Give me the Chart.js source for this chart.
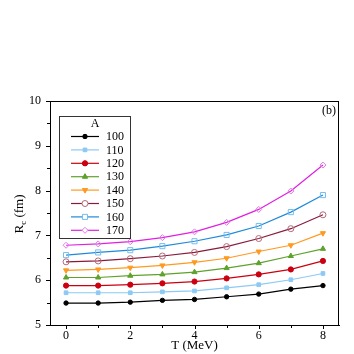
<!DOCTYPE html>
<html>
<head>
<meta charset="utf-8">
<script src="https://cdn.jsdelivr.net/npm/chart.js@4"></script>
<style>
  body { margin: 0; background: #fff; }
  #wrap { width: 354px; height: 354px; }
</style>
</head>
<body>
<div id="wrap"><canvas id="rcChart" width="354" height="354"></canvas></div>
<script>
const temps = [0, 1, 2, 3, 4, 5, 6, 7, 8];
const massLabels = ['100', '110', '120', '130', '140', '150', '160', '170'];

const rc100 = [5.49, 5.49, 5.51, 5.55, 5.57, 5.63, 5.69, 5.80, 5.88];
const rc110 = [5.72, 5.72, 5.72, 5.74, 5.76, 5.83, 5.90, 6.01, 6.15];
const rc120 = [5.88, 5.88, 5.90, 5.93, 5.97, 6.04, 6.13, 6.24, 6.43];
const rc130 = [6.06, 6.06, 6.10, 6.13, 6.18, 6.27, 6.38, 6.54, 6.70];
const rc140 = [6.22, 6.24, 6.28, 6.33, 6.40, 6.49, 6.64, 6.78, 7.05];
const rc150 = [6.41, 6.43, 6.48, 6.54, 6.62, 6.75, 6.93, 7.15, 7.46];
const rc160 = [6.56, 6.62, 6.67, 6.76, 6.87, 7.01, 7.21, 7.52, 7.90];
const rc170 = [6.78, 6.81, 6.86, 6.95, 7.08, 7.29, 7.58, 7.99, 8.57];

const xTicks = [0, 2, 4, 6, 8];
const yTicks = [5, 6, 7, 8, 9, 10];

const serif = '"Liberation Serif", "DejaVu Serif", serif';

// line colour, marker colour, marker style, filled?, rotation
const styles = [
  { line: '#000000', mark: '#000000', shape: 'circle', fill: true, rot: 0, r: 2.2 },
  { line: '#8ccaf4', mark: '#8ccaf4', shape: 'rect', fill: true, rot: 0, r: 2.6 },
  { line: '#cc0010', mark: '#cc0010', shape: 'circle', fill: true, rot: 0, r: 2.6 },
  { line: '#5ea22c', mark: '#5ea22c', shape: 'triangle', fill: true, rot: 0, r: 3 },
  { line: '#ff9a20', mark: '#ff9a20', shape: 'triangle', fill: true, rot: 180, r: 3 },
  { line: '#8a1a3c', mark: '#b46a78', shape: 'circle', fill: false, rot: 0, r: 3 },
  { line: '#1f8ad8', mark: '#74bdf0', shape: 'rect', fill: false, rot: 0, r: 3.6 },
  { line: '#e020e0', mark: '#e27ae8', shape: 'rectRot', fill: false, rot: 0, r: 3 }
];

const seriesValues = [rc100, rc110, rc120, rc130, rc140, rc150, rc160, rc170];

const datasets = seriesValues.map((vals, i) => {
  const s = styles[i];
  return {
    label: massLabels[i],
    data: temps.map((t, j) => ({ x: t, y: vals[j] })),
    borderColor: s.line,
    borderWidth: 1.2,
    pointStyle: s.shape,
    pointRotation: s.rot,
    pointRadius: s.r,
    pointBorderColor: s.mark,
    pointBackgroundColor: s.fill ? s.mark : 'rgba(0,0,0,0)',
    pointBorderWidth: 1,
    tension: 0
  };
});

// frame, ticks, titles, legend and panel label
const decorPlugin = {
  id: 'decor',
  afterDraw(chart) {
    const ctx = chart.ctx;
    const area = chart.chartArea;
    const xs = chart.scales.x;
    const ys = chart.scales.y;
    ctx.save();
    ctx.strokeStyle = '#000';
    ctx.lineWidth = 1;
    ctx.strokeRect(area.left + 0.5, area.top + 0.5, area.right - area.left - 1, area.bottom - area.top);

    // x ticks (outward)
    for (let v = 0; v <= 8; v++) {
      const px = Math.round(xs.getPixelForValue(v)) + 0.5;
      const len = v % 2 === 0 ? 4 : 3;
      ctx.beginPath();
      ctx.moveTo(px, area.bottom);
      ctx.lineTo(px, area.bottom + len);
      ctx.stroke();
    }
    // y ticks (outward)
    for (let v = 5; v <= 10; v += 0.5) {
      const py = Math.round(ys.getPixelForValue(v)) + 0.5;
      const len = Number.isInteger(v) ? 4 : 3;
      ctx.beginPath();
      ctx.moveTo(area.left, py);
      ctx.lineTo(area.left - len, py);
      ctx.stroke();
    }

    ctx.fillStyle = '#000';
    // x title
    ctx.font = '13px ' + serif;
    ctx.textAlign = 'center';
    ctx.textBaseline = 'middle';
    ctx.fillText('T (MeV)', (area.left + area.right) / 2, 346);

    // y title with subscript
    ctx.save();
    ctx.translate(20, 214);
    ctx.rotate(-Math.PI / 2);
    ctx.textAlign = 'left';
    ctx.font = '13px ' + serif;
    const wR = ctx.measureText('R').width;
    ctx.font = '9px ' + serif;
    const wc = ctx.measureText('c').width;
    ctx.font = '13px ' + serif;
    const wRest = ctx.measureText(' (fm)').width;
    let start = -(wR + wc + wRest) / 2;
    ctx.fillText('R', start, 0);
    ctx.font = '9px ' + serif;
    ctx.fillText('c', start + wR, 4);
    ctx.font = '13px ' + serif;
    ctx.fillText(' (fm)', start + wR + wc, 0);
    ctx.restore();

    // panel label
    ctx.font = '12px ' + serif;
    ctx.textAlign = 'right';
    ctx.fillText('(b)', area.right - 3, 111);

    // legend box
    const lx = 59, ly = 116, lw = 71, lh = 122;
    ctx.fillStyle = '#fff';
    ctx.fillRect(lx, ly, lw, lh);
    ctx.strokeStyle = '#333';
    ctx.strokeRect(lx + 0.5, ly + 0.5, lw, lh);
    ctx.fillStyle = '#000';
    ctx.textAlign = 'center';
    ctx.font = '12px ' + serif;
    ctx.fillText('A', 95, 124);
    chart.data.datasets.forEach((ds, i) => {
      const yy = 136.5 + i * 13.4;
      ctx.strokeStyle = ds.borderColor;
      ctx.lineWidth = 1.2;
      ctx.beginPath();
      ctx.moveTo(71, yy);
      ctx.lineTo(99, yy);
      ctx.stroke();
      const s = styles[i];
      ctx.lineWidth = 1;
      ctx.strokeStyle = s.mark;
      ctx.fillStyle = s.fill ? s.mark : '#fff';
      Chart.helpers.drawPoint(ctx, {
        pointStyle: s.shape,
        rotation: s.rot,
        radius: s.r,
        borderWidth: 1
      }, 85, yy);
      if (s.fill) ctx.fill();
      ctx.fillStyle = '#000';
      ctx.textAlign = 'left';
      ctx.font = '12px ' + serif;
      ctx.fillText(ds.label, 106, yy + 0.5);
    });
    ctx.restore();
  }
};

new Chart(document.getElementById('rcChart'), {
  type: 'line',
  data: { datasets: datasets },
  options: {
    responsive: false,
    animation: false,
    devicePixelRatio: 1,
    layout: { padding: { top: 101, right: 15, left: 0, bottom: 0 } },
    plugins: {
      legend: { display: false },
      tooltip: { enabled: false }
    },
    scales: {
      x: {
        type: 'linear',
        min: -0.5,
        max: 8.5,
        afterFit: (scale) => { scale.height = 29; },
        afterBuildTicks: (scale) => { scale.ticks = xTicks.map(v => ({ value: v })); },
        grid: { display: false, drawTicks: false },
        border: { display: true, color: '#000', width: 1 },
        ticks: {
          color: '#000',
          padding: 4,
          font: { family: serif, size: 12 },
          maxRotation: 0
        }
      },
      y: {
        type: 'linear',
        min: 5,
        max: 10,
        afterFit: (scale) => { scale.width = 50; },
        afterBuildTicks: (scale) => { scale.ticks = yTicks.map(v => ({ value: v })); },
        grid: { display: false, drawTicks: false },
        border: { display: true, color: '#000', width: 1 },
        ticks: {
          color: '#000',
          padding: 9,
          font: { family: serif, size: 12 }
        }
      }
    }
  },
  plugins: [decorPlugin]
});
</script>
</body>
</html>
